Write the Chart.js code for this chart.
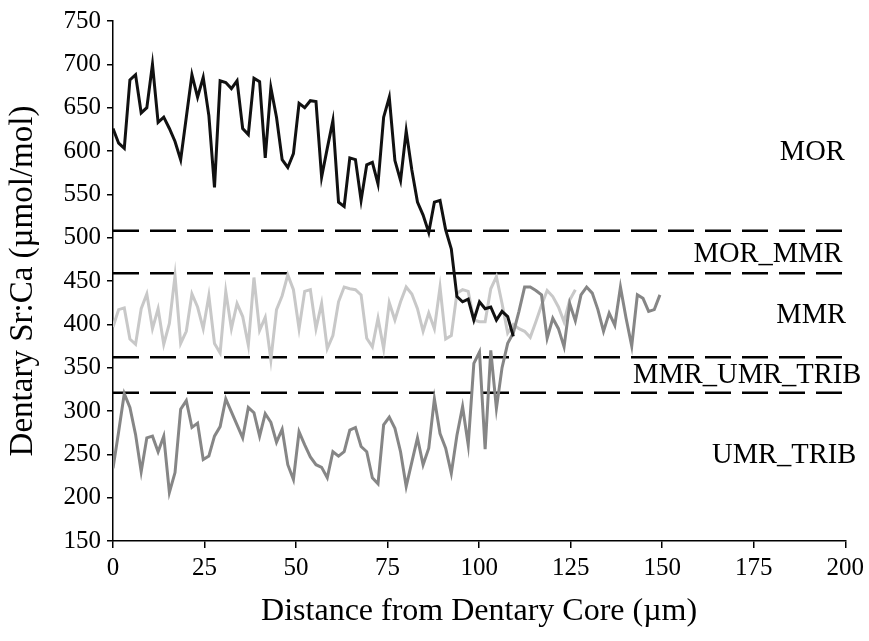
<!DOCTYPE html>
<html><head><meta charset="utf-8">
<script src="https://cdn.jsdelivr.net/npm/chart.js@4.4.1/dist/chart.umd.min.js"></script>
<style>html,body{margin:0;padding:0;background:#fff;}#wrap{width:869px;height:641px;}</style>
</head><body><div id="wrap"><canvas id="c" width="869" height="641"></canvas></div>
<script>
// Distance from dentary core (µm) for each sample
const distance = [0,1.54,3.08,4.62,6.16,7.70,9.24,10.78,12.32,13.86,15.40,16.94,18.48,20.02,21.56,23.10,24.64,26.18,27.72,29.26,30.80,32.34,33.88,35.42,36.96,38.50,40.04,41.58,43.12,44.66,46.20,47.74,49.28,50.82,52.36,53.90,55.44,56.98,58.52,60.06,61.60,63.14,64.68,66.22,67.76,69.30,70.84,72.38,73.92,75.46,77.00,78.54,80.08,81.62,83.16,84.70,86.24,87.78,89.32,90.86,92.40,93.94,95.48,97.02,98.56,100.10,101.64,103.18,104.72,106.26,107.80,109.34,110.88,112.42,113.96,115.50,117.04,118.58,120.12,121.66,123.20,124.74,126.28,127.82,129.36,130.90,132.44,133.98,135.52,137.06,138.60,140.14,141.68,143.22,144.76,146.30,147.84,149.38];
// Black profile
const blackSeries = [626,609,603,682,688,644,650,700,633,639,626,611,590,639,688,662,685,641,558,681,679,672,681,626,619,684,680,592,673,639,590,581,597,655,
650,658,657,570,603,635,541,536,592,590,543,584,587,562,639,662,589,566,623,578,541,526,506,541,543,509,487,
432,426,429,405,426,418,420,405,415,409,386];
// Light grey profile
const lightSeries = [397,417,419,383,377,418,435,395,418,377,401,456,378,392,435,420,395,433,378,367,438,395,424,409,376,454,393,408,359,417,433,457,440,
395,438,440,395,424,372,387,426,443,441,440,434,384,374,407,372,425,405,426,443,435,418,392,413,395,443,383,387,
436,440,438,405,403,403,441,455,424,390,400,395,392,385,403,422,439,432,420,403,428,440];
// Dark grey profile
const darkSeries = [234,276,320,304,273,230,269,271,253,271,206,229,302,312,281,286,244,248,271,282,314,299,284,269,304,298,271,297,287,264,279,238,221,
276,261,247,238,235,223,253,248,253,278,281,259,253,223,216,284,293,280,253,213,241,269,238,257,314,274,257,228,272,305,261,
355,368,256,370,303,350,378,390,415,443,443,439,434,384,407,395,374,424,404,434,443,436,417,392,413,399,443,407,375,434,430,415,417,434];
// Habitat thresholds (dashed lines)
const thresholds = [508, 459, 362, 321];
const regionLabels = ['MOR','MOR_MMR','MMR','MMR_UMR_TRIB','UMR_TRIB'];
const xTickValues = [0,25,50,75,100,125,150,175,200];
const yTickValues = [150,200,250,300,350,400,450,500,550,600,650,700,750];

const FONT = "'Liberation Serif','Times New Roman',serif";
const toPts = arr => arr.map((v,i)=>({x:distance[i], y:v}));

const datasets = [
  {data: toPts(blackSeries), borderColor:'#111111', borderWidth:3},
  {data: toPts(darkSeries), borderColor:'#868686', borderWidth:3},
  {data: toPts(lightSeries), borderColor:'#c8c8c8', borderWidth:3}
];
thresholds.forEach(t => datasets.push({
  data:[{x:xTickValues[0], y:t},{x:xTickValues[xTickValues.length-1], y:t}],
  borderColor:'#000', borderWidth:2.5, borderDash:[26,11]
}));
datasets.forEach(d => { d.pointRadius = 0; d.tension = 0; d.fill = false; });

const regionPlugin = {
  id:'regions',
  afterDatasetsDraw(chart, args, opts){
    const {ctx, scales:{x, y}} = chart;
    ctx.save();
    ctx.font = opts.size + 'px ' + FONT;
    ctx.fillStyle = '#000';
    ctx.textAlign = 'center';
    ctx.textBaseline = 'middle';
    opts.items.forEach((it,k) => ctx.fillText(regionLabels[k], x.getPixelForValue(it.x), y.getPixelForValue(it.y)));
    ctx.restore();
  }
};

new Chart(document.getElementById('c'), {
  type:'line',
  data:{datasets},
  plugins:[regionPlugin],
  options:{
    responsive:false, animation:false, devicePixelRatio:1,
    layout:{padding:{left:0, right:21, top:21, bottom:0}},
    plugins:{
      legend:{display:false}, tooltip:{enabled:false},
      regions:{size:28.5, items:[{x:191,y:598},{x:178.9,y:480},{x:190.7,y:410},{x:173.2,y:341},{x:183.3,y:249}]}
    },
    scales:{
      x:{type:'linear', min:0, max:200,
        afterBuildTicks: s => { s.ticks = xTickValues.map(v=>({value:v})); },
        afterFit: s => { s.height = 100; },
        ticks:{color:'#000', font:{family:FONT, size:25}, padding:5, maxRotation:0},
        grid:{drawOnChartArea:false, drawTicks:true, tickLength:7, color:'#000', lineWidth:1.5},
        border:{display:true, color:'#000', width:1.5},
        title:{display:true, text:'Distance from Dentary Core (µm)', color:'#000', font:{family:FONT, size:32}, padding:{top:0,bottom:10}}
      },
      y:{type:'linear', min:150, max:750,
        afterBuildTicks: s => { s.ticks = yTickValues.map(v=>({value:v})); },
        afterFit: s => { s.width = 113; },
        ticks:{color:'#000', font:{family:FONT, size:25}, padding:6},
        grid:{drawOnChartArea:false, drawTicks:true, tickLength:6, color:'#000', lineWidth:1.5},
        border:{display:true, color:'#000', width:1.5},
        title:{display:true, text:'Dentary Sr:Ca (µmol/mol)', color:'#000', font:{family:FONT, size:33}, padding:{top:4,bottom:0}}
      }
    }
  }
});
</script></body></html>
